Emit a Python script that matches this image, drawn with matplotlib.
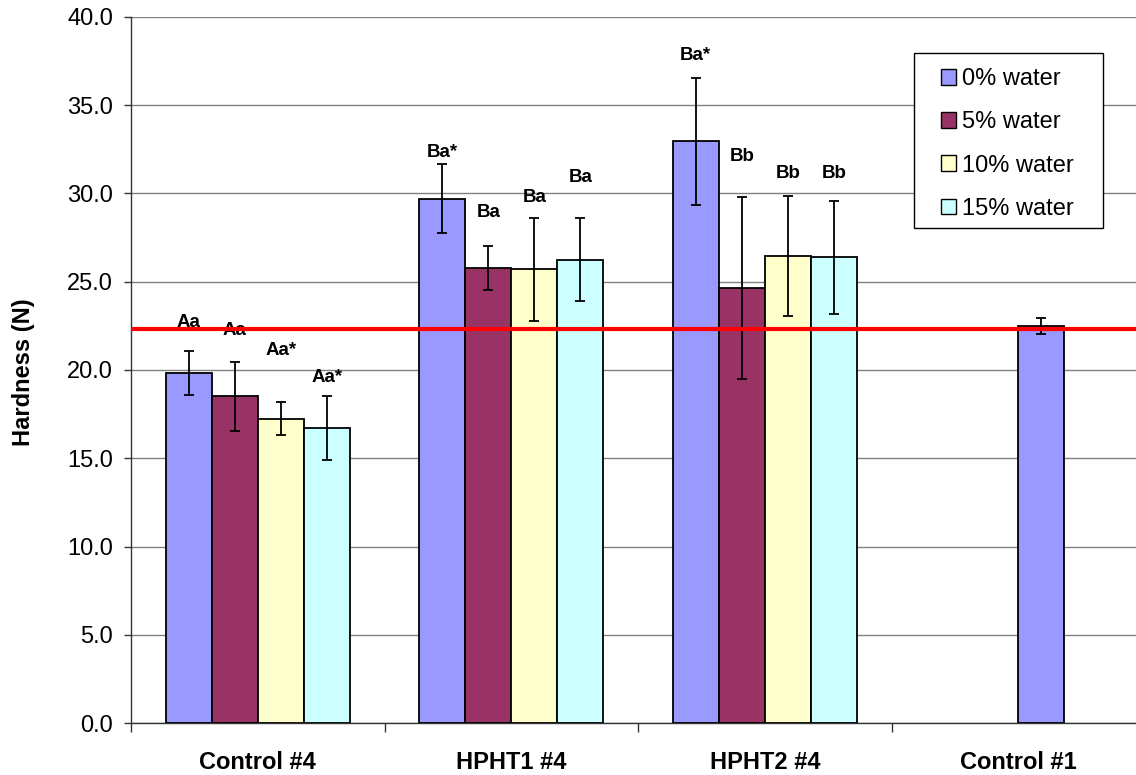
import matplotlib
matplotlib.use("Agg")
import matplotlib.pyplot as plt
import numpy as np
from matplotlib.patches import Patch, Rectangle

plt.rcParams["font.family"] = ["Liberation Sans", "DejaVu Sans"]

# ── Data ──
groups = ["Control #4", "HPHT1 #4", "HPHT2 #4", "Control #1"]
series = ["0% water", "5% water", "10% water", "15% water"]

# hardness (N) per series for the three treated groups
hard_0 = [19.85, 29.7, 32.95]
hard_5 = [18.5, 25.8, 24.65]
hard_10 = [17.25, 25.7, 26.45]
hard_15 = [16.7, 26.25, 26.4]
err_0 = [1.25, 1.95, 3.6]
err_5 = [1.95, 1.25, 5.15]
err_10 = [0.95, 2.9, 3.4]
err_15 = [1.8, 2.35, 3.2]

# significance letters and where they sit
letters_0 = ["Aa", "Ba*", "Ba*"]
letters_5 = ["Aa", "Ba", "Bb"]
letters_10 = ["Aa*", "Ba", "Bb"]
letters_15 = ["Aa*", "Ba", "Bb"]
label_y_0 = [22.7, 32.35, 37.8]
label_y_5 = [22.25, 28.9, 32.1]
label_y_10 = [21.1, 29.8, 31.15]
label_y_15 = [19.6, 30.9, 31.15]

control1_value = 22.5
control1_err = 0.45
reference_line = 22.3

COLORS = ["#9999FF", "#993366", "#FFFFCC", "#CCFFFF"]
RED = "#FF0000"
GRID = "#808080"
AXIS = "#333333"

W, H = 1136, 775
fig = plt.figure(figsize=(W / 100, H / 100), dpi=100)
fig.patch.set_facecolor("white")
ax = fig.add_axes([131 / W, (H - 723) / H, 1014 / W, 706 / H])

bw = 0.1815
x = np.arange(3)
values = [hard_0, hard_5, hard_10, hard_15]
errors = [err_0, err_5, err_10, err_15]
letters = [letters_0, letters_5, letters_10, letters_15]
label_ys = [label_y_0, label_y_5, label_y_10, label_y_15]

for j in range(4):
    xs = x + (j - 1.5) * bw
    ax.bar(xs, values[j], width=bw, color=COLORS[j], edgecolor="black",
           linewidth=1.3, zorder=3)
    ax.errorbar(xs, values[j], yerr=errors[j], fmt="none", ecolor="black",
                elinewidth=1.3, capsize=3.6, capthick=1.3, zorder=4)
    for xi, lab, ly in zip(xs, letters[j], label_ys[j]):
        ax.text(xi, ly, lab, ha="center", va="center", fontsize=13.5,
                fontweight="bold", zorder=5)

# Control #1 sits in the third slot of its category
xc = 3 + 0.5 * bw
ax.bar([xc], [control1_value], width=bw, color=COLORS[0], edgecolor="black",
       linewidth=1.3, zorder=3)
ax.errorbar([xc], [control1_value], yerr=[control1_err], fmt="none",
            ecolor="black", elinewidth=1.3, capsize=3.6, capthick=1.3, zorder=4)

ax.axhline(reference_line, color=RED, linewidth=3, zorder=6)

ax.set_xlim(-0.5, 3.5)
ax.set_ylim(0, 40)
ticks = np.arange(0, 40.1, 5)
ax.set_yticks(ticks)
ax.set_yticklabels([f"{v:.1f}" for v in ticks])
ax.yaxis.grid(True, color=GRID, linewidth=1, zorder=0)
ax.set_axisbelow(True)

ax.set_xticks(np.arange(4))
ax.set_xticklabels(groups, fontsize=17, fontweight="bold")
ax.tick_params(axis="x", which="major", length=0, pad=20)
ax.set_xticks([-0.5, 0.5, 1.5, 2.5], minor=True)
ax.tick_params(axis="x", which="minor", length=6.5, width=1, direction="out",
               color=AXIS)
ax.tick_params(axis="y", labelsize=17, length=5, width=1, direction="out",
               pad=8, color=AXIS)

fig.text(24 / W, 1 - 372 / H, "Hardness (N)", rotation=90, ha="center",
         va="center", fontsize=17, fontweight="bold")

for side in ["top", "right"]:
    ax.spines[side].set_visible(False)
for side in ["left", "bottom"]:
    ax.spines[side].set_color(AXIS)
    ax.spines[side].set_linewidth(1)

# legend frame drawn separately so the padding matches the original
fig.patches.append(Rectangle((914 / W, 1 - 228 / H), 189 / W, 175 / H,
                             transform=fig.transFigure, facecolor="white",
                             edgecolor="black", linewidth=1, zorder=10))
handles = [Patch(facecolor=c, edgecolor="black", linewidth=1) for c in COLORS]
leg = fig.legend(handles, series, loc="upper left",
                 bbox_to_anchor=(941 / W, 1 - 68 / H), fontsize=17,
                 frameon=False, handlelength=0.64, handleheight=0.64,
                 handletextpad=0.25, labelspacing=0.9, borderpad=0,
                 borderaxespad=0)
leg.set_zorder(11)

fig.savefig("out.png", dpi=100, facecolor="white")
